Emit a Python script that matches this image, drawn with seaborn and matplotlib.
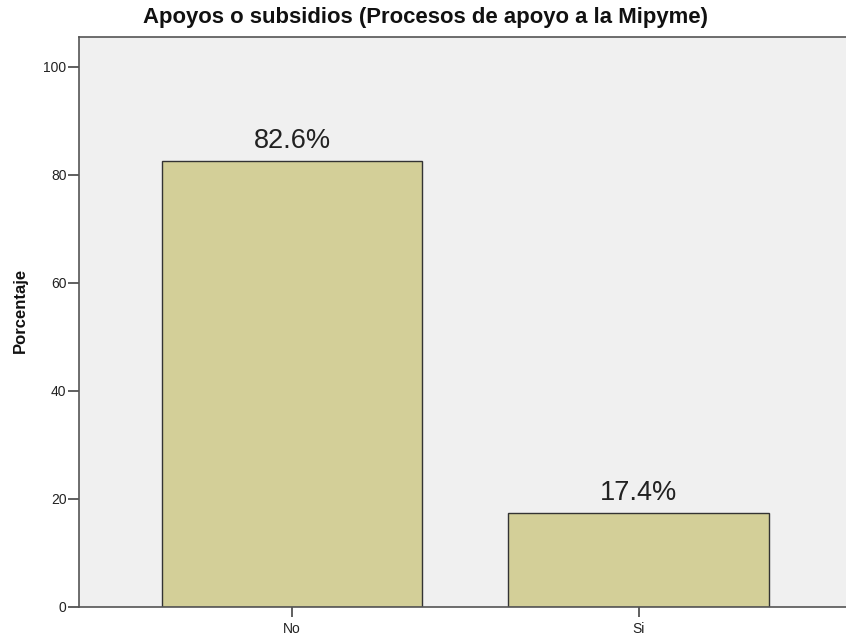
import matplotlib
matplotlib.use("Agg")
import matplotlib.pyplot as plt
import seaborn as sns
import pandas as pd

categories = ["No", "Si"]
values = [82.6, 17.4]
labels = ["82.6%", "17.4%"]
yticks = [0, 20, 40, 60, 80, 100]

sns.set_style("white")
plt.rcParams['font.family'] = ['Liberation Sans', 'DejaVu Sans']

W, H = 846, 637
fig = plt.figure(figsize=(W/100, H/100), dpi=100)
ax = fig.add_axes([79/W, (H-607)/H, (846-79)/W, (607-37)/H])
ax.set_facecolor("#F0F0F0")

df = pd.DataFrame({"cat": categories, "val": values})
sns.barplot(data=df, x="cat", y="val", ax=ax, color="#D3CF98", saturation=1,
            edgecolor="#333333", linewidth=1.0, width=0.752)

for i, (v, t) in enumerate(zip(values, labels)):
    ax.text(i, v + 1.3, t, ha="center", va="bottom", fontsize=19.5, color="#222222")

ax.set_xlim(-0.614, 1.597)
ax.set_ylim(0, 105.5)
ax.set_yticks(yticks)
ax.set_yticklabels([str(t) for t in yticks])
ax.set_xlabel("")
ax.set_ylabel("")
ax.tick_params(axis="both", labelsize=10, colors="#444444", width=1.2, direction="out",
               bottom=True, left=True)
ax.tick_params(axis="both", labelcolor="#222222")
ax.tick_params(axis="y", length=8, pad=1)
ax.tick_params(axis="x", length=7, pad=4)
for s in ["left", "bottom", "top"]:
    ax.spines[s].set_color("#555555")
    ax.spines[s].set_linewidth(1.2)
ax.spines["right"].set_visible(False)

fig.text(20/W, 1 - 310/H, "Porcentaje", rotation=90, ha="center", va="center",
         fontsize=12, fontweight="bold", color="#111111")
fig.text(425/W, 1 - 18/H, "Apoyos o subsidios (Procesos de apoyo a la Mipyme)",
         ha="center", va="center", fontsize=15.9, fontweight="bold", color="#111111")

fig.savefig("out.png", dpi=100, facecolor="white")
